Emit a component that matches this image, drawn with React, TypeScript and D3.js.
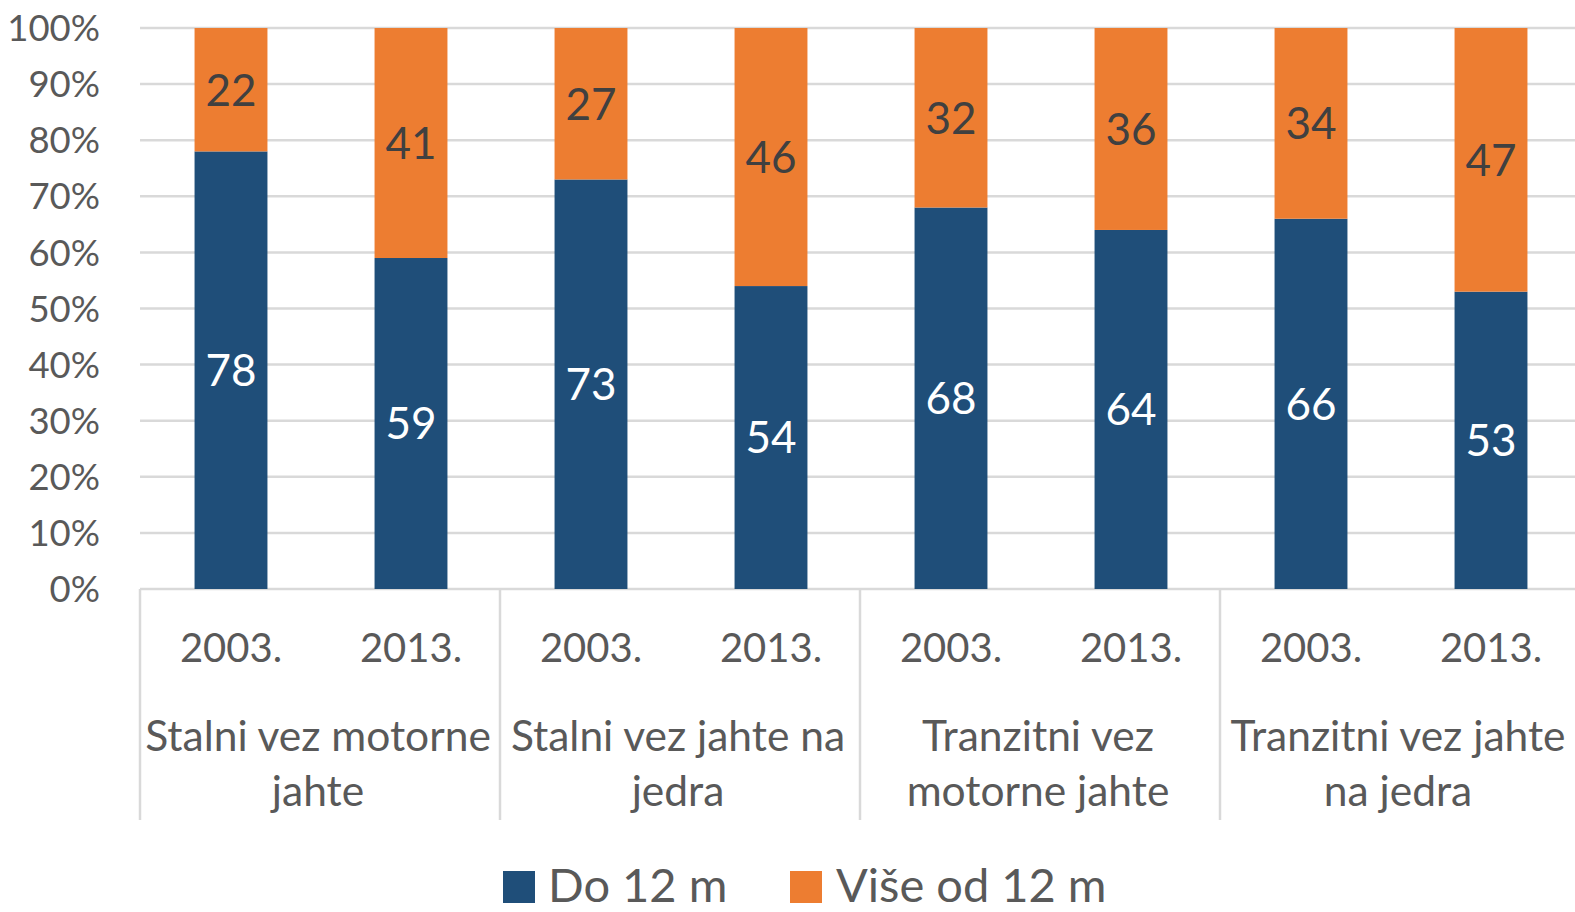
import React from "react";
import * as d3 from "d3";

const groups = [
  ["Stalni vez motorne", "jahte"],
  ["Stalni vez jahte na", "jedra"],
  ["Tranzitni vez", "motorne jahte"],
  ["Tranzitni vez jahte", "na jedra"],
];
const years = ["2003.", "2013."];
const do12 = [78, 59, 73, 54, 68, 64, 66, 53];
const vise12 = [22, 41, 27, 46, 32, 36, 34, 47];
const yTicks = [0, 10, 20, 30, 40, 50, 60, 70, 80, 90, 100];
const seriesNames = ["Do 12 m", "Više od 12 m"];
const colors = ["#1F4E79", "#ED7D31"];

const W = 1575;
const H = 912;
const FONT = "Lato, 'Open Sans', sans-serif";

export default function App() {
  const left = 140;
  const right = 1580;
  const top = 28;
  const bottom = 589;
  const x = d3.scaleBand<number>().domain(d3.range(do12.length)).range([left, right]);
  const y = d3.scaleLinear().domain([0, 100]).range([bottom, top]);
  const bw = x.bandwidth() * 0.405;
  const groupW = x.bandwidth() * 2;

  return (
    <svg width={W} height={H} style={{ position: "absolute", left: 0, top: 0, background: "#fff" }} fontFamily={FONT}>
      {yTicks.map((t) => (
        <g key={t}>
          <line x1={left} x2={W} y1={y(t)} y2={y(t)} stroke="#D9D9D9" strokeWidth={2.5} />
          <text x={100} y={y(t)} dy="0.36em" textAnchor="end" fontSize={36.5} fill="#595959">
            {t}%
          </text>
        </g>
      ))}
      {do12.map((v, i) => {
        const cx = (x(i) as number) + x.bandwidth() / 2 + 1;
        const o = vise12[i];
        return (
          <g key={i}>
            <rect x={cx - bw / 2} width={bw} y={y(v)} height={y(0) - y(v)} fill={colors[0]} />
            <rect x={cx - bw / 2} width={bw} y={y(v + o)} height={y(v) - y(v + o)} fill={colors[1]} />
            <text x={cx} y={(y(0) + y(v)) / 2} dy="0.36em" textAnchor="middle" fontSize={44} fill="#FFFFFF">
              {v}
            </text>
            <text x={cx} y={(y(v) + y(v + o)) / 2} dy="0.36em" textAnchor="middle" fontSize={44} fill="#404040">
              {o}
            </text>
            <text x={cx} y={648} dy="0.36em" textAnchor="middle" fontSize={40} fill="#595959">
              {years[i % 2]}
            </text>
          </g>
        );
      })}
      {groups.map((g, gi) => {
        const gx = left + gi * groupW;
        return (
          <g key={gi}>
            <line x1={gx} x2={gx} y1={bottom} y2={820} stroke="#D9D9D9" strokeWidth={2.5} />
            {g.map((ln, li) => (
              <text key={li} x={gx + groupW / 2 - 2} y={736 + li * 55} dy="0.36em" textAnchor="middle" fontSize={42.5} fill="#595959">
                {ln}
              </text>
            ))}
          </g>
        );
      })}
      <line x1={right} x2={right} y1={bottom} y2={820} stroke="#D9D9D9" strokeWidth={2.5} />
      {/* legend */}
      <rect x={503} y={871} width={32} height={32} fill={colors[0]} />
      <text x={548} y={885} dy="0.36em" fontSize={47} fill="#595959">{seriesNames[0]}</text>
      <rect x={790} y={871} width={32} height={32} fill={colors[1]} />
      <text x={836} y={885} dy="0.36em" fontSize={47} fill="#595959">{seriesNames[1]}</text>
    </svg>
  );
}
